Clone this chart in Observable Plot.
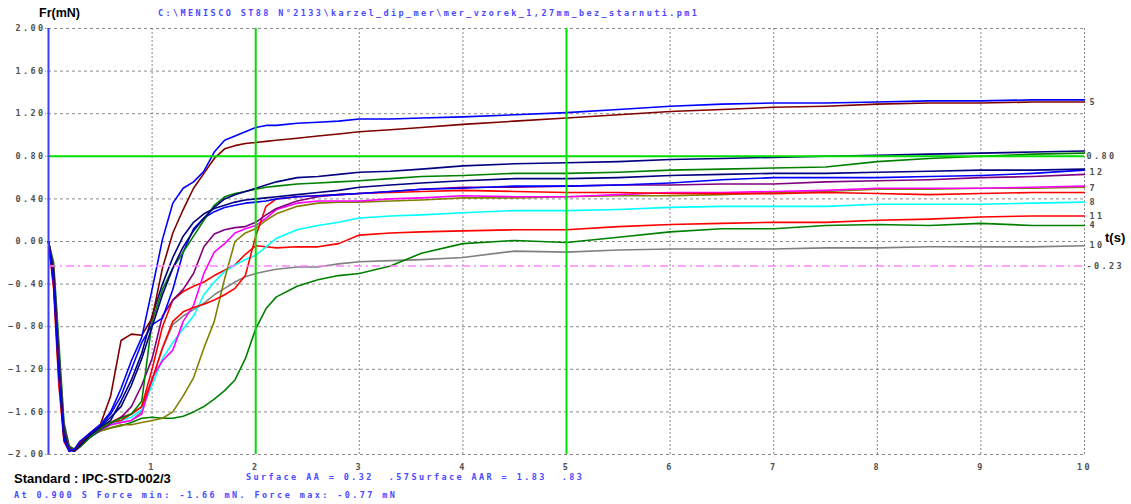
<!DOCTYPE html>
<html><head><meta charset="utf-8">
<script src="https://cdn.jsdelivr.net/npm/d3@7"></script>
<script src="https://cdn.jsdelivr.net/npm/@observablehq/plot@0.6"></script>
<style>
body{margin:0;background:#fff;}
#wrap{position:relative;width:1131px;height:504px;overflow:hidden;background:#fff;}
#chart{position:absolute;left:0;top:0;}
.mono{position:absolute;font-family:"DejaVu Sans Mono",monospace;font-size:8.5px;font-weight:bold;letter-spacing:2.4px;color:#4a4aff;white-space:pre;line-height:10px;}
.bold{position:absolute;font-family:"Liberation Sans",Arial,sans-serif;font-weight:bold;color:#000;white-space:pre;}
</style></head><body>
<div id="wrap">
<div id="chart"></div>
<div class="bold" id="ylab" style="left:39px;top:6px;font-size:12.5px;line-height:14px"></div>
<div class="mono" id="path" style="left:158px;top:8px"></div>
<div class="bold" id="xlab" style="left:1105px;top:231px;font-size:13px;line-height:14px"></div>
<div class="bold" id="std" style="left:14px;top:471px;font-size:13px;line-height:16px"></div>
<div class="mono" id="surf" style="left:246px;top:472px"></div>
<div class="mono" id="info" style="left:14px;top:490px"></div>
</div>
<script>
// ---- texts ----
const yAxisTitle = "Fr(mN)";
const xAxisTitle = "t(s)";
const filePath = "C:\\MENISCO ST88 N°2133\\karzel_dip_mer\\mer_vzorek_1,27mm_bez_starnuti.pm1";
const standardText = "Standard : IPC-STD-002/3";
const surfaceText = "Surface AA = 0.32  .57Surface AAR = 1.83  .83";
const infoText = "At 0.900 S Force min: -1.66 mN. Force max: -0.77 mN";

// ---- ticks ----
const xTicks = [1, 2, 3, 4, 5, 6, 7, 8, 9, 10];
const yTicks = [-2, -1.6, -1.2, -0.8, -0.4, 0, 0.4, 0.8, 1.2, 1.6, 2];

// ---- reference lines ----
const greenX = [2, 5];
const greenY = [0.8];
const pinkY = [-0.23];

// ---- time grid (s) ----
const T = [0, 0.05, 0.1, 0.15, 0.2, 0.25, 0.3, 0.4, 0.5, 0.6, 0.7, 0.8, 0.9, 1.0, 1.1, 1.2, 1.3, 1.4, 1.5, 1.6, 1.7, 1.8, 1.9, 2.0, 2.1, 2.2, 2.4, 2.6, 2.8, 3.0, 3.3, 3.6, 4.0, 4.5, 5.0, 5.5, 6.0, 6.5, 7.0, 7.5, 8.0, 8.5, 9.0, 9.5, 10.0];

// ---- series values (mN) ----
const gray = [0, -0.36, -1.20, -1.84, -1.96, -1.96, -1.91, -1.82, -1.76, -1.72, -1.70, -1.68, -1.60, -1.30, -1.00, -0.78, -0.70, -0.64, -0.58, -0.50, -0.44, -0.38, -0.33, -0.30, -0.28, -0.26, -0.24, -0.24, -0.21, -0.19, -0.18, -0.17, -0.15, -0.09, -0.10, -0.08, -0.07, -0.07, -0.07, -0.06, -0.06, -0.05, -0.05, -0.05, -0.04];
const green2 = [0, -0.20, -0.95, -1.70, -1.92, -1.95, -1.93, -1.82, -1.78, -1.75, -1.73, -1.70, -1.66, -1.65, -1.66, -1.66, -1.64, -1.60, -1.55, -1.48, -1.40, -1.30, -1.10, -0.82, -0.63, -0.52, -0.42, -0.36, -0.32, -0.30, -0.23, -0.11, -0.02, 0.01, -0.01, 0.04, 0.09, 0.12, 0.12, 0.15, 0.16, 0.15, 0.17, 0.15, 0.15];
const red2 = [0, -0.42, -1.30, -1.87, -1.96, -1.96, -1.90, -1.81, -1.75, -1.70, -1.65, -1.62, -1.55, -1.20, -0.80, -0.55, -0.47, -0.42, -0.38, -0.32, -0.27, -0.22, -0.12, -0.04, -0.05, -0.06, -0.05, -0.05, -0.02, 0.06, 0.08, 0.09, 0.10, 0.11, 0.11, 0.14, 0.16, 0.17, 0.18, 0.18, 0.20, 0.21, 0.23, 0.24, 0.24];
const cyan = [0, -0.33, -1.15, -1.82, -1.95, -1.97, -1.92, -1.84, -1.78, -1.72, -1.68, -1.65, -1.58, -1.35, -1.10, -0.95, -0.82, -0.70, -0.50, -0.38, -0.28, -0.22, -0.17, -0.13, -0.05, 0.03, 0.11, 0.15, 0.18, 0.22, 0.24, 0.25, 0.27, 0.29, 0.29, 0.30, 0.32, 0.33, 0.33, 0.33, 0.35, 0.35, 0.35, 0.36, 0.37];
const olive = [0, -0.26, -1.08, -1.76, -1.94, -1.96, -1.92, -1.83, -1.78, -1.75, -1.72, -1.72, -1.70, -1.68, -1.66, -1.60, -1.45, -1.28, -1.00, -0.75, -0.35, 0.00, 0.08, 0.12, 0.20, 0.26, 0.33, 0.36, 0.37, 0.37, 0.38, 0.39, 0.41, 0.41, 0.42, 0.43, 0.43, 0.44, 0.46, 0.47, 0.49, 0.49, 0.50, 0.50, 0.51];
const magenta = [0, -0.30, -1.12, -1.80, -1.95, -1.97, -1.93, -1.84, -1.77, -1.72, -1.70, -1.68, -1.62, -1.28, -1.12, -1.02, -0.75, -0.60, -0.30, -0.10, -0.02, 0.08, 0.12, 0.15, 0.22, 0.30, 0.36, 0.38, 0.38, 0.38, 0.40, 0.41, 0.43, 0.42, 0.42, 0.44, 0.46, 0.46, 0.47, 0.48, 0.50, 0.50, 0.50, 0.51, 0.52];
const red1 = [0, -0.45, -1.35, -1.88, -1.97, -1.95, -1.89, -1.80, -1.74, -1.70, -1.68, -1.62, -1.55, -1.30, -1.00, -0.75, -0.66, -0.62, -0.59, -0.55, -0.50, -0.44, -0.32, 0.05, 0.33, 0.40, 0.42, 0.43, 0.44, 0.45, 0.46, 0.47, 0.48, 0.47, 0.46, 0.46, 0.45, 0.45, 0.45, 0.46, 0.45, 0.44, 0.45, 0.46, 0.46];
const purple = [0, -0.25, -1.05, -1.75, -1.93, -1.96, -1.93, -1.84, -1.77, -1.71, -1.65, -1.55, -1.35, -1.10, -0.70, -0.55, -0.45, -0.30, -0.05, 0.07, 0.11, 0.13, 0.14, 0.18, 0.25, 0.31, 0.38, 0.42, 0.44, 0.45, 0.47, 0.49, 0.51, 0.51, 0.52, 0.53, 0.53, 0.54, 0.54, 0.56, 0.57, 0.58, 0.60, 0.61, 0.63];
const blue2 = [0, -0.38, -1.22, -1.86, -1.97, -1.96, -1.90, -1.81, -1.73, -1.62, -1.45, -1.20, -0.95, -0.78, -0.72, -0.45, -0.10, 0.12, 0.22, 0.28, 0.32, 0.34, 0.36, 0.37, 0.38, 0.40, 0.42, 0.43, 0.44, 0.45, 0.47, 0.49, 0.50, 0.52, 0.52, 0.53, 0.55, 0.58, 0.60, 0.60, 0.60, 0.61, 0.62, 0.64, 0.67];
const navy2 = [0, -0.32, -1.18, -1.82, -1.95, -1.96, -1.91, -1.82, -1.75, -1.68, -1.50, -1.30, -1.05, -0.70, -0.40, -0.15, 0.05, 0.18, 0.26, 0.31, 0.34, 0.37, 0.39, 0.40, 0.41, 0.42, 0.44, 0.46, 0.48, 0.51, 0.53, 0.55, 0.57, 0.59, 0.59, 0.60, 0.62, 0.63, 0.64, 0.64, 0.65, 0.66, 0.67, 0.67, 0.68];
const green1 = [0, -0.28, -1.10, -1.78, -1.94, -1.96, -1.93, -1.84, -1.76, -1.70, -1.66, -1.62, -1.50, -0.75, -0.45, -0.25, -0.10, 0.05, 0.20, 0.34, 0.42, 0.45, 0.47, 0.49, 0.51, 0.52, 0.54, 0.55, 0.56, 0.57, 0.59, 0.61, 0.62, 0.64, 0.64, 0.65, 0.67, 0.68, 0.69, 0.70, 0.75, 0.78, 0.80, 0.82, 0.83];
const navy1 = [0, -0.30, -1.15, -1.80, -1.95, -1.97, -1.92, -1.82, -1.74, -1.65, -1.55, -1.35, -1.10, -0.80, -0.50, -0.25, -0.05, 0.10, 0.22, 0.32, 0.40, 0.44, 0.47, 0.50, 0.53, 0.56, 0.60, 0.61, 0.63, 0.65, 0.66, 0.68, 0.71, 0.73, 0.74, 0.75, 0.77, 0.78, 0.79, 0.80, 0.81, 0.82, 0.83, 0.84, 0.85];
const maroon = [0, -0.35, -1.20, -1.84, -1.95, -1.96, -1.90, -1.80, -1.72, -1.45, -0.93, -0.87, -0.88, -0.72, -0.25, 0.08, 0.30, 0.50, 0.64, 0.78, 0.87, 0.90, 0.92, 0.93, 0.94, 0.95, 0.97, 0.99, 1.01, 1.03, 1.05, 1.07, 1.10, 1.13, 1.16, 1.19, 1.22, 1.24, 1.26, 1.27, 1.29, 1.30, 1.30, 1.31, 1.31];
const blue1 = [0, -0.40, -1.25, -1.85, -1.96, -1.95, -1.88, -1.80, -1.72, -1.60, -1.38, -1.12, -0.90, -0.45, 0.02, 0.36, 0.50, 0.56, 0.66, 0.84, 0.95, 0.99, 1.03, 1.07, 1.09, 1.09, 1.11, 1.12, 1.13, 1.15, 1.15, 1.16, 1.17, 1.19, 1.21, 1.24, 1.27, 1.29, 1.30, 1.30, 1.31, 1.32, 1.32, 1.33, 1.33];

const seriesValues = [gray, green2, red2, cyan, olive, magenta, red1, purple, blue2, navy2, green1, navy1, maroon, blue1];
const seriesColors = ["#808080", "#008000", "#ff0000", "#00ffff", "#808000", "#ff00ff", "#ff0000", "#800080", "#0000ff", "#000080", "#008000", "#000080", "#800000", "#0000ff"];

// ---- right-side labels ----
const endLabels = ["5", "12", "7", "8", "11", "4", "10"];
const endValues = [1.31, 0.65, 0.50, 0.37, 0.235, 0.15, -0.04];
const refLabelValues = [0.80, -0.235];
const refLabels = ["0.80", "-0.23"];

// ---- build ----
const lineMarks = seriesValues.map((vals, i) =>
  Plot.line(T.map((t, j) => ({t, v: vals[j]})), {x: "t", y: "v", stroke: seriesColors[i], strokeWidth: 1.6, curve: "linear"})
);

const chart = Plot.plot({
  width: 1131,
  height: 504,
  marginLeft: 48,
  marginRight: 47,
  marginTop: 28,
  marginBottom: 50,
  x: {domain: [0, 10]},
  y: {domain: [-2, 2]},
  style: {fontFamily: "DejaVu Sans Mono, monospace", fontSize: "8.5px", fontWeight: "bold", letterSpacing: "2.4px", color: "#505050", background: "transparent", overflow: "visible"},
  marks: [
    Plot.gridY({ticks: yTicks, stroke: "#8a8a8a", strokeOpacity: 1, strokeDasharray: "3,3"}),
    Plot.gridX({ticks: xTicks, stroke: "#8a8a8a", strokeOpacity: 1, strokeDasharray: "2,2"}),
    Plot.axisY({ticks: yTicks, tickFormat: d3.format(".2f"), tickSize: 3, tickPadding: 0, label: null, stroke: "#7a7aff", strokeDasharray: "1,1"}),
    Plot.axisX({ticks: xTicks, tickFormat: d3.format("d"), tickSize: 0, tickPadding: 9, label: null}),
    ...lineMarks,
    Plot.ruleY(pinkY, {stroke: "#ff80ff", strokeWidth: 1.5, strokeDasharray: "8,4,2,4"}),
    Plot.ruleY(greenY, {stroke: "#00e000", strokeWidth: 2}),
    Plot.ruleX(greenX, {stroke: "#00e000", strokeWidth: 2}),
    Plot.ruleX([0], {stroke: "#3c3cff", strokeWidth: 2}),
    Plot.text(endLabels, {x: () => 10, y: (d, i) => endValues[i], text: d => d, textAnchor: "start", dx: 5, fill: "#505050"}),
    Plot.text(refLabels, {x: () => 10, y: (d, i) => refLabelValues[i], text: d => d, textAnchor: "start", dx: 2, fill: "#505050"})
  ]
});
document.getElementById("chart").appendChild(chart);
document.getElementById("ylab").textContent = yAxisTitle;
document.getElementById("xlab").textContent = xAxisTitle;
document.getElementById("path").textContent = filePath;
document.getElementById("std").textContent = standardText;
document.getElementById("surf").textContent = surfaceText;
document.getElementById("info").textContent = infoText;
</script>
</body></html>
